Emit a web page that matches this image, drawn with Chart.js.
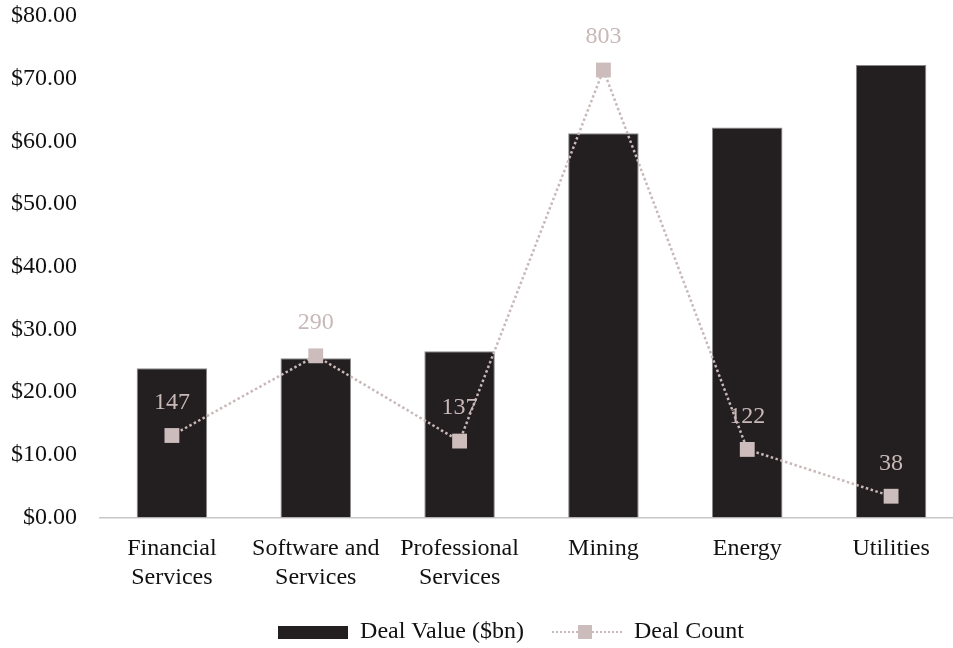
<!DOCTYPE html>
<html>
<head>
<meta charset="utf-8">
<script src="https://cdn.jsdelivr.net/npm/chart.js@4/dist/chart.umd.min.js"></script>
<style>
  html, body { margin: 0; padding: 0; background: #fff; overflow: hidden; }
  #wrap { width: 963px; height: 648px; }
</style>
</head>
<body>
<div id="wrap"><canvas id="dealChart"></canvas></div>
<script>
// data
const sectors = [
  ["Financial", "Services"],
  ["Software and", "Services"],
  ["Professional", "Services"],
  "Mining",
  "Energy",
  "Utilities",
];
const dealValue = [23.8, 25.4, 26.5, 61.3, 62.2, 72.2];
const dealCount = [147, 290, 137, 803, 122, 38];
const valueTicks = [0, 10, 20, 30, 40, 50, 60, 70, 80];
const countMax = 900;

const barColor = "#231f20";
const lineColor = "#c9b8b8";
const markerColor = "#cdbcbc";
const serif = "'Liberation Serif', 'Times New Roman', serif";

Chart.defaults.font.family = serif;
Chart.defaults.font.size = 24;
Chart.defaults.color = "#111";

// legend swatches
const barSwatch = document.createElement("canvas");
barSwatch.width = 70;
barSwatch.height = 13;
let sctx = barSwatch.getContext("2d");
sctx.fillStyle = barColor;
sctx.fillRect(0, 0, 70, 13);

const lineSwatch = document.createElement("canvas");
lineSwatch.width = 70;
lineSwatch.height = 16;
sctx = lineSwatch.getContext("2d");
sctx.strokeStyle = lineColor;
sctx.lineWidth = 2;
sctx.setLineDash([2, 2]);
sctx.beginPath();
sctx.moveTo(0, 8);
sctx.lineTo(70, 8);
sctx.stroke();
sctx.fillStyle = markerColor;
sctx.fillRect(26, 1, 14, 14);

// count labels above the markers
const countLabels = {
  id: "countLabels",
  afterDatasetsDraw(chart) {
    const meta = chart.getDatasetMeta(1);
    const ctx = chart.ctx;
    ctx.save();
    ctx.font = "24px " + serif;
    ctx.fillStyle = lineColor;
    ctx.textAlign = "center";
    ctx.textBaseline = "middle";
    meta.data.forEach((pt, i) => {
      ctx.fillText(dealCount[i], pt.x, pt.y - 33);
    });
    ctx.restore();
  },
};

// legend sits a little right of centre in the reference
const legendNudge = {
  id: "legendNudge",
  afterLayout(chart) {
    chart.legend.left += 24;
    chart.legend.right += 24;
  },
};

const ctx = document.getElementById("dealChart").getContext("2d");
const dealChart = new Chart(ctx, {
  type: "bar",
  data: {
    labels: sectors,
    datasets: [
      {
        type: "bar",
        label: "Deal Value ($bn)",
        data: dealValue,
        backgroundColor: barColor,
        borderColor: "#8a8a8a",
        borderWidth: 1,
        barPercentage: 0.49,
        categoryPercentage: 1,
        yAxisID: "y",
        order: 1,
      },
      {
        type: "line",
        label: "Deal Count",
        data: dealCount,
        borderColor: lineColor,
        borderWidth: 2.5,
        borderDash: [2.5, 2.5],
        pointStyle: "rect",
        pointRadius: 10.5,
        pointBackgroundColor: markerColor,
        pointBorderColor: markerColor,
        pointBorderWidth: 0,
        tension: 0,
        fill: false,
        clip: false,
        yAxisID: "y1",
        order: 0,
      },
    ],
  },
  options: {
    responsive: true,
    maintainAspectRatio: false,
    animation: false,
    layout: {
      autoPadding: false,
      padding: { top: 16, left: 11, right: 0, bottom: -6 },
    },
    plugins: {
      legend: {
        position: "bottom",
        labels: {
          usePointStyle: true,
          pointStyleWidth: 70,
          padding: 28,
          color: "#111",
          sort: (a, b) => a.datasetIndex - b.datasetIndex,
          generateLabels: function (chart) {
            const items = Chart.defaults.plugins.legend.labels.generateLabels(chart);
            items.forEach((item) => {
              item.pointStyle = item.datasetIndex === 0 ? barSwatch : lineSwatch;
            });
            return items;
          },
        },
      },
      tooltip: {
        enabled: false,
      },
    },
    scales: {
      x: {
        grid: {
          display: false,
          drawTicks: true,
          tickLength: 17,
        },
        border: {
          color: "#c8c8c8",
          width: 1.5,
        },
        ticks: {
          padding: 0,
          maxRotation: 0,
          autoSkip: false,
        },
      },
      y: {
        min: 0,
        max: 80,
        afterBuildTicks: (axis) => {
          axis.ticks = valueTicks.map((v) => ({ value: v }));
        },
        grid: {
          display: false,
          drawTicks: true,
          tickLength: 23,
        },
        border: {
          display: false,
        },
        ticks: {
          padding: 0,
          callback: (v) => "$" + Number(v).toFixed(2),
        },
      },
      y1: {
        display: false,
        min: 0,
        max: countMax,
        position: "right",
      },
    },
  },
  plugins: [countLabels, legendNudge],
});
</script>
</body>
</html>
